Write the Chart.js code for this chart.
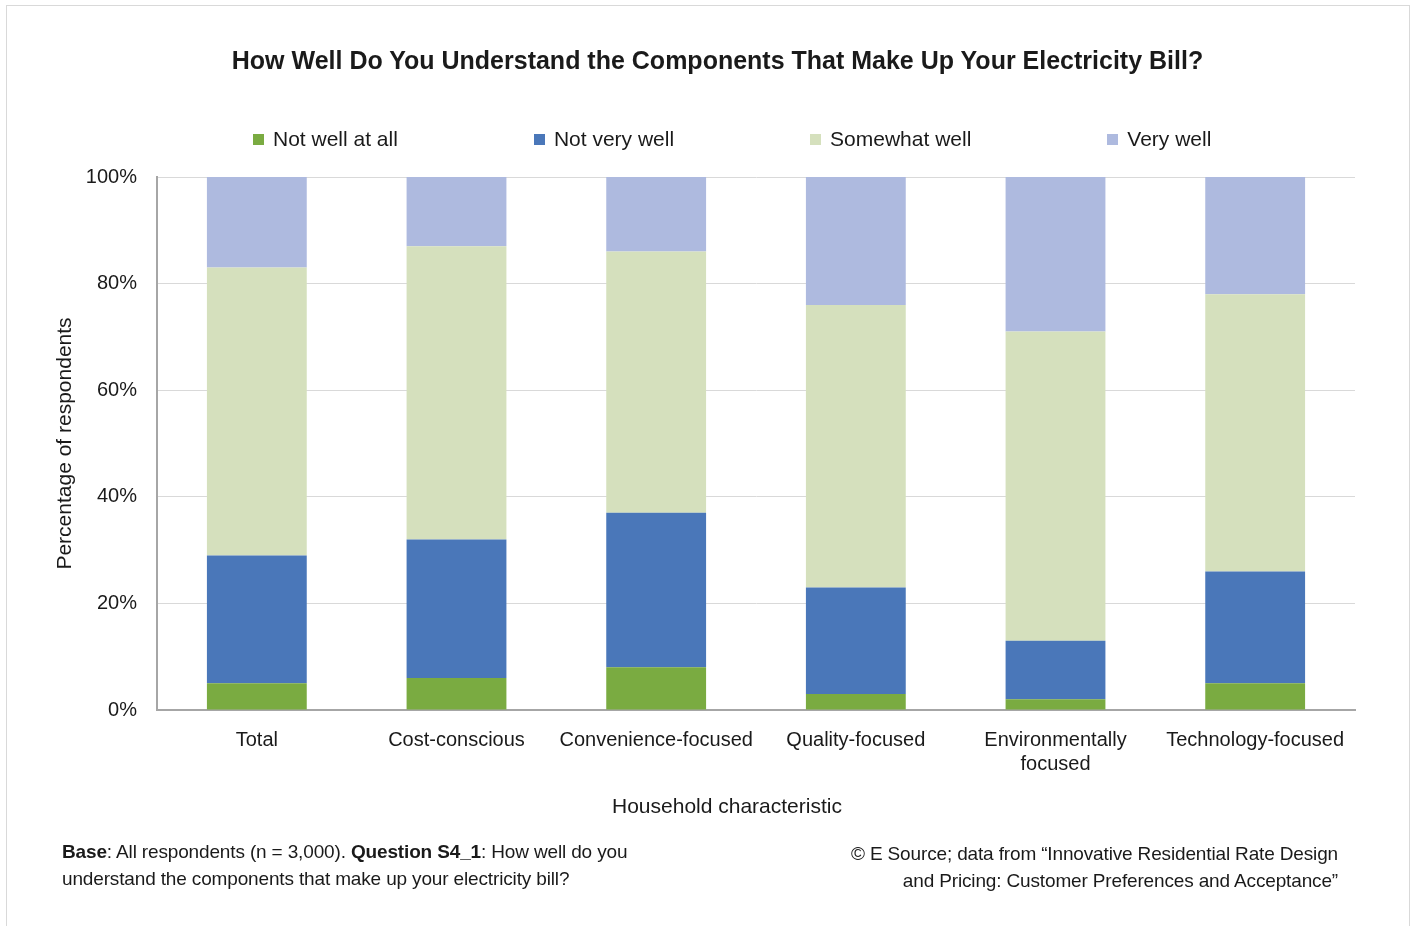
<!DOCTYPE html>
<html>
<head>
<meta charset="utf-8">
<script src="https://cdn.jsdelivr.net/npm/chart.js@4.4.0/dist/chart.umd.min.js"></script>
<style>
  body { margin: 0; background: #fff; font-family: "Liberation Sans", Arial, sans-serif; color: #1a1a1a; }
  #frame { position: absolute; left: 6px; top: 5px; width: 1402px; height: 940px; border: 1px solid #d9d9d9; }
  #wrap { position: absolute; left: 0; top: 0; width: 1415px; height: 926px; }
  #title { position: absolute; left: 0; width: 1435px; top: 45px; text-align: center; font-weight: bold; font-size: 25px; line-height: 30px; }
  #legend { position: absolute; left: 253px; top: 127px; display: flex; gap: 136px; font-size: 21px; line-height: 24px; }
  #legend .item { display: flex; align-items: center; }
  #legend .box { width: 11px; height: 11px; margin-right: 9px; }
  .note { position: absolute; font-size: 19px; line-height: 27px; letter-spacing: -0.15px; }
  #base { left: 62px; top: 838px; }
  #source { right: 77px; top: 840px; text-align: right; }
  #xtitle { position: absolute; left: 0; width: 1454px; top: 794px; text-align: center; font-size: 21px; line-height: 24px; }
</style>
</head>
<body>
<div id="frame"></div>
<div id="wrap"><canvas id="chart" width="1415" height="926"></canvas></div>
<div id="title">How Well Do You Understand the Components That Make Up Your Electricity Bill?</div>
<div id="legend"></div>
<div id="xtitle">Household characteristic</div>
<div class="note" id="base"><b>Base</b>: All respondents (n = 3,000). <b>Question S4_1</b>: How well do you<br>understand the components that make up your electricity bill?</div>
<div class="note" id="source">© E Source; data from “Innovative Residential Rate Design<br>and Pricing: Customer Preferences and Acceptance”</div>
<script>
// Категории и значения (в процентах)
const categories = ['Total', 'Cost-conscious', 'Convenience-focused', 'Quality-focused', ['Environmentally', 'focused'], 'Technology-focused'];
const notWellAtAll = [5, 6, 8, 3, 2, 5];
const notVeryWell = [24, 26, 29, 20, 11, 21];
const somewhatWell = [54, 55, 49, 53, 58, 52];
const veryWell = [17, 13, 14, 24, 29, 22];
const yTicks = [0, 20, 40, 60, 80, 100];

const textColor = '#1a1a1a';
const baseFont = { family: '"Liberation Sans", Arial, sans-serif', size: 20 };

const ctx = document.getElementById('chart').getContext('2d');
const chart = new Chart(ctx, {
  type: 'bar',
  data: {
    labels: categories,
    datasets: [
      { label: 'Not well at all', data: notWellAtAll, backgroundColor: '#7aab41' },
      { label: 'Not very well', data: notVeryWell, backgroundColor: '#4a77b9' },
      { label: 'Somewhat well', data: somewhatWell, backgroundColor: '#d5e0bd' },
      { label: 'Very well', data: veryWell, backgroundColor: '#aebadf' },
    ],
  },
  options: {
    responsive: false,
    animation: false,
    devicePixelRatio: 1,
    layout: { padding: { left: 53, right: 60, top: 177, bottom: 156 } },
    datasets: { bar: { barPercentage: 0.5, categoryPercentage: 1 } },
    plugins: {
      title: { display: false },
      legend: { display: false },
      tooltip: { enabled: false },
    },
    scales: {
      x: {
        stacked: true,
        grid: { display: false, drawTicks: false },
        border: { color: '#a6a6a6', width: 2 },
        ticks: { color: textColor, font: baseFont, padding: 18, maxRotation: 0 },
        afterFit: (scale) => { scale.height = 60; },
      },
      y: {
        stacked: true,
        min: 0,
        max: 100,
        afterBuildTicks: (scale) => { scale.ticks = yTicks.map((v) => ({ value: v })); },
        grid: { color: '#d9d9d9', drawTicks: false },
        border: { color: '#a6a6a6', width: 2 },
        ticks: { color: textColor, font: baseFont, padding: 20, callback: (v) => v + '%' },
        title: { display: true, text: 'Percentage of respondents', color: textColor, font: { family: baseFont.family, size: 21 }, padding: 0 },
        afterFit: (scale) => { scale.width = 104; },
      },
    },
  },
});

// Легенда в HTML по наборам данных графика
const legendEl = document.getElementById('legend');
chart.data.datasets.forEach((ds) => {
  const item = document.createElement('div');
  item.className = 'item';
  item.innerHTML = `<span class="box" style="background:${ds.backgroundColor}"></span><span>${ds.label}</span>`;
  legendEl.appendChild(item);
});
</script>
</body>
</html>
